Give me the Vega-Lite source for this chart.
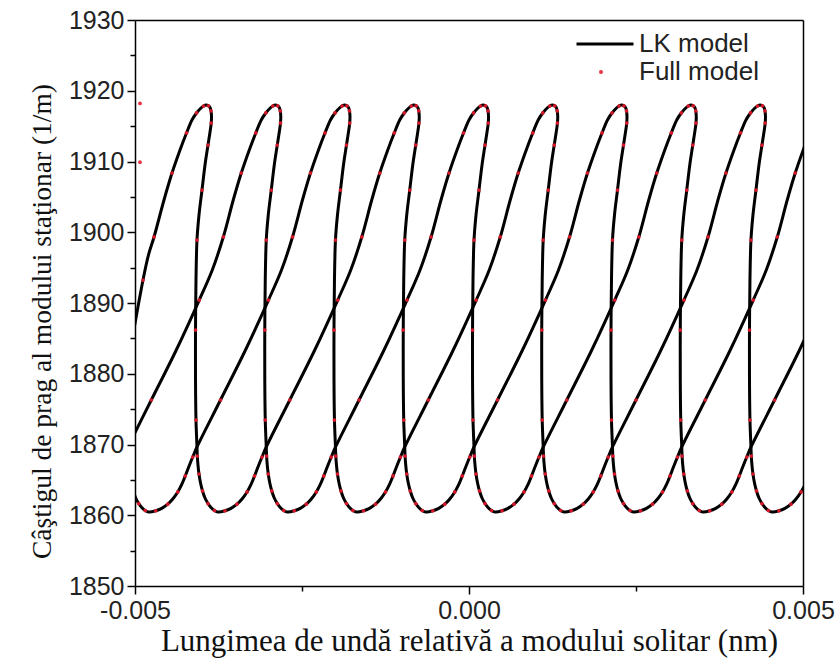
{
  "$schema": "https://vega.github.io/schema/vega-lite/v6.json",
  "width": 668,
  "height": 566,
  "autosize": {"type": "none"},
  "padding": {"left": 135, "top": 20, "right": 36, "bottom": 74},
  "background": "white",
  "config": {
    "view": {"stroke": null},
    "axis": {"domainColor": "black", "domainWidth": 1.5, "tickColor": "black", "tickWidth": 1.5, "labelFont": "Liberation Sans", "labelFontSize": 25, "labelColor": "#222", "titleFont": "Liberation Serif", "titleFontWeight": "normal", "titleColor": "#111", "gridWidth": 1.5}
  },
  "data": {"values": [
    {"c":"F","n":0,"x":-0.004925,"y":1918.2},
    {"c":"F","n":0,"x":-0.004925,"y":1909.9},
    {"c":"A","n":113,"x":-0.00503,"y":1885.5},
    {"c":"A","n":114,"x":-0.00488,"y":1893.25},
    {"c":"A","n":115,"x":-0.004798,"y":1896.8},
    {"c":"A","n":116,"x":-0.004715,"y":1899.33},
    {"c":"A","n":117,"x":-0.004566,"y":1904.56},
    {"c":"A","n":118,"x":-0.004446,"y":1908.37},
    {"c":"A","n":119,"x":-0.004326,"y":1911.63},
    {"c":"A","n":120,"x":-0.004229,"y":1914.03},
    {"c":"A","n":121,"x":-0.004147,"y":1915.87},
    {"c":"A","n":122,"x":-0.004079,"y":1916.86},
    {"c":"A","n":123,"x":-0.004012,"y":1917.56},
    {"c":"A","n":124,"x":-0.003974,"y":1917.84},
    {"c":"A","n":125,"x":-0.003937,"y":1918},
    {"c":"A","n":126,"x":-0.0039,"y":1917.87},
    {"c":"A","n":127,"x":-0.003877,"y":1917.63},
    {"c":"A","n":128,"x":-0.003862,"y":1917.14},
    {"c":"A","n":129,"x":-0.003855,"y":1916.43},
    {"c":"A","n":130,"x":-0.003859,"y":1915.44},
    {"c":"A","n":131,"x":-0.003877,"y":1914.17},
    {"c":"A","n":132,"x":-0.003907,"y":1912.33},
    {"c":"A","n":133,"x":-0.003952,"y":1909.51},
    {"c":"A","n":134,"x":-0.003997,"y":1905.97},
    {"c":"A","n":135,"x":-0.004042,"y":1902.44},
    {"c":"A","n":136,"x":-0.004072,"y":1898.9},
    {"c":"A","n":137,"x":-0.004087,"y":1893.25},
    {"c":"A","n":138,"x":-0.004094,"y":1886.18},
    {"c":"A","n":139,"x":-0.004094,"y":1879.12},
    {"c":"A","n":140,"x":-0.004087,"y":1873.46},
    {"c":"A","n":141,"x":-0.004072,"y":1869.65},
    {"c":"A","n":142,"x":-0.004067,"y":1868.37},
    {"c":"A","n":143,"x":-0.004057,"y":1867.1},
    {"c":"A","n":144,"x":-0.004042,"y":1865.83},
    {"c":"A","n":145,"x":-0.004019,"y":1864.56},
    {"c":"A","n":146,"x":-0.003989,"y":1863.43},
    {"c":"A","n":147,"x":-0.003952,"y":1862.44},
    {"c":"A","n":148,"x":-0.003907,"y":1861.66},
    {"c":"A","n":149,"x":-0.003862,"y":1861.1},
    {"c":"A","n":150,"x":-0.00381,"y":1860.67},
    {"c":"A","n":401,"x":-0.003757,"y":1860.46},
    {"c":"A","n":402,"x":-0.003653,"y":1860.63},
    {"c":"A","n":403,"x":-0.003563,"y":1860.98},
    {"c":"A","n":404,"x":-0.003473,"y":1861.56},
    {"c":"A","n":405,"x":-0.003398,"y":1862.3},
    {"c":"A","n":406,"x":-0.003323,"y":1863.29},
    {"c":"A","n":407,"x":-0.003263,"y":1864.35},
    {"c":"A","n":408,"x":-0.003211,"y":1865.55},
    {"c":"A","n":409,"x":-0.003156,"y":1866.89},
    {"c":"A","n":410,"x":-0.003099,"y":1868.23},
    {"c":"A","n":411,"x":-0.003035,"y":1869.65},
    {"c":"A","n":412,"x":-0.002683,"y":1876.29},
    {"c":"A","n":413,"x":-0.002309,"y":1883.36},
    {"c":"A","n":414,"x":-0.001965,"y":1890.42},
    {"c":"A","n":415,"x":-0.00177,"y":1894.66},
    {"c":"A","n":416,"x":-0.001605,"y":1899.33},
    {"c":"A","n":417,"x":-0.001456,"y":1904.56},
    {"c":"A","n":418,"x":-0.001336,"y":1908.37},
    {"c":"A","n":419,"x":-0.001216,"y":1911.63},
    {"c":"A","n":420,"x":-0.001119,"y":1914.03},
    {"c":"A","n":421,"x":-0.001037,"y":1915.87},
    {"c":"A","n":422,"x":-0.000969,"y":1916.86},
    {"c":"A","n":423,"x":-0.000902,"y":1917.56},
    {"c":"A","n":424,"x":-0.000864,"y":1917.84},
    {"c":"A","n":425,"x":-0.000827,"y":1918},
    {"c":"A","n":426,"x":-0.00079,"y":1917.87},
    {"c":"A","n":427,"x":-0.000767,"y":1917.63},
    {"c":"A","n":428,"x":-0.000752,"y":1917.14},
    {"c":"A","n":429,"x":-0.000745,"y":1916.43},
    {"c":"A","n":430,"x":-0.000749,"y":1915.44},
    {"c":"A","n":431,"x":-0.000767,"y":1914.17},
    {"c":"A","n":432,"x":-0.000797,"y":1912.33},
    {"c":"A","n":433,"x":-0.000842,"y":1909.51},
    {"c":"A","n":434,"x":-0.000887,"y":1905.97},
    {"c":"A","n":435,"x":-0.000932,"y":1902.44},
    {"c":"A","n":436,"x":-0.000962,"y":1898.9},
    {"c":"A","n":437,"x":-0.000977,"y":1893.25},
    {"c":"A","n":438,"x":-0.000984,"y":1886.18},
    {"c":"A","n":439,"x":-0.000984,"y":1879.12},
    {"c":"A","n":440,"x":-0.000977,"y":1873.46},
    {"c":"A","n":441,"x":-0.000962,"y":1869.65},
    {"c":"A","n":442,"x":-0.000957,"y":1868.37},
    {"c":"A","n":443,"x":-0.000947,"y":1867.1},
    {"c":"A","n":444,"x":-0.000932,"y":1865.83},
    {"c":"A","n":445,"x":-0.000909,"y":1864.56},
    {"c":"A","n":446,"x":-0.000879,"y":1863.43},
    {"c":"A","n":447,"x":-0.000842,"y":1862.44},
    {"c":"A","n":448,"x":-0.000797,"y":1861.66},
    {"c":"A","n":449,"x":-0.000752,"y":1861.1},
    {"c":"A","n":450,"x":-0.0007,"y":1860.67},
    {"c":"A","n":701,"x":-0.000647,"y":1860.46},
    {"c":"A","n":702,"x":-0.000543,"y":1860.63},
    {"c":"A","n":703,"x":-0.000453,"y":1860.98},
    {"c":"A","n":704,"x":-0.000363,"y":1861.56},
    {"c":"A","n":705,"x":-0.000288,"y":1862.3},
    {"c":"A","n":706,"x":-0.000213,"y":1863.29},
    {"c":"A","n":707,"x":-0.000153,"y":1864.35},
    {"c":"A","n":708,"x":-0.000101,"y":1865.55},
    {"c":"A","n":709,"x":-0.000046,"y":1866.89},
    {"c":"A","n":710,"x":0.000011,"y":1868.23},
    {"c":"A","n":711,"x":0.000075,"y":1869.65},
    {"c":"A","n":712,"x":0.000427,"y":1876.29},
    {"c":"A","n":713,"x":0.000801,"y":1883.36},
    {"c":"A","n":714,"x":0.001145,"y":1890.42},
    {"c":"A","n":715,"x":0.00134,"y":1894.66},
    {"c":"A","n":716,"x":0.001505,"y":1899.33},
    {"c":"A","n":717,"x":0.001654,"y":1904.56},
    {"c":"A","n":718,"x":0.001774,"y":1908.37},
    {"c":"A","n":719,"x":0.001894,"y":1911.63},
    {"c":"A","n":720,"x":0.001991,"y":1914.03},
    {"c":"A","n":721,"x":0.002073,"y":1915.87},
    {"c":"A","n":722,"x":0.002141,"y":1916.86},
    {"c":"A","n":723,"x":0.002208,"y":1917.56},
    {"c":"A","n":724,"x":0.002246,"y":1917.84},
    {"c":"A","n":725,"x":0.002283,"y":1918},
    {"c":"A","n":726,"x":0.00232,"y":1917.87},
    {"c":"A","n":727,"x":0.002343,"y":1917.63},
    {"c":"A","n":728,"x":0.002358,"y":1917.14},
    {"c":"A","n":729,"x":0.002365,"y":1916.43},
    {"c":"A","n":730,"x":0.002361,"y":1915.44},
    {"c":"A","n":731,"x":0.002343,"y":1914.17},
    {"c":"A","n":732,"x":0.002313,"y":1912.33},
    {"c":"A","n":733,"x":0.002268,"y":1909.51},
    {"c":"A","n":734,"x":0.002223,"y":1905.97},
    {"c":"A","n":735,"x":0.002178,"y":1902.44},
    {"c":"A","n":736,"x":0.002148,"y":1898.9},
    {"c":"A","n":737,"x":0.002133,"y":1893.25},
    {"c":"A","n":738,"x":0.002126,"y":1886.18},
    {"c":"A","n":739,"x":0.002126,"y":1879.12},
    {"c":"A","n":740,"x":0.002133,"y":1873.46},
    {"c":"A","n":741,"x":0.002148,"y":1869.65},
    {"c":"A","n":742,"x":0.002153,"y":1868.37},
    {"c":"A","n":743,"x":0.002163,"y":1867.1},
    {"c":"A","n":744,"x":0.002178,"y":1865.83},
    {"c":"A","n":745,"x":0.002201,"y":1864.56},
    {"c":"A","n":746,"x":0.002231,"y":1863.43},
    {"c":"A","n":747,"x":0.002268,"y":1862.44},
    {"c":"A","n":748,"x":0.002313,"y":1861.66},
    {"c":"A","n":749,"x":0.002358,"y":1861.1},
    {"c":"A","n":750,"x":0.00241,"y":1860.67},
    {"c":"A","n":1001,"x":0.002463,"y":1860.46},
    {"c":"A","n":1002,"x":0.002567,"y":1860.63},
    {"c":"A","n":1003,"x":0.002657,"y":1860.98},
    {"c":"A","n":1004,"x":0.002747,"y":1861.56},
    {"c":"A","n":1005,"x":0.002822,"y":1862.3},
    {"c":"A","n":1006,"x":0.002897,"y":1863.29},
    {"c":"A","n":1007,"x":0.002957,"y":1864.35},
    {"c":"A","n":1008,"x":0.003009,"y":1865.55},
    {"c":"A","n":1009,"x":0.003064,"y":1866.89},
    {"c":"A","n":1010,"x":0.003121,"y":1868.23},
    {"c":"A","n":1011,"x":0.003185,"y":1869.65},
    {"c":"A","n":1012,"x":0.003537,"y":1876.29},
    {"c":"A","n":1013,"x":0.003911,"y":1883.36},
    {"c":"A","n":1014,"x":0.004255,"y":1890.42},
    {"c":"A","n":1015,"x":0.00445,"y":1894.66},
    {"c":"A","n":1016,"x":0.004615,"y":1899.33},
    {"c":"A","n":1017,"x":0.004764,"y":1904.56},
    {"c":"A","n":1018,"x":0.004884,"y":1908.37},
    {"c":"A","n":1019,"x":0.005004,"y":1911.63},
    {"c":"A","n":1020,"x":0.005101,"y":1914.03},
    {"c":"B","n":211,"x":-0.005108,"y":1869.65},
    {"c":"B","n":212,"x":-0.004756,"y":1876.29},
    {"c":"B","n":213,"x":-0.004382,"y":1883.36},
    {"c":"B","n":214,"x":-0.004038,"y":1890.42},
    {"c":"B","n":215,"x":-0.003843,"y":1894.66},
    {"c":"B","n":216,"x":-0.003678,"y":1899.33},
    {"c":"B","n":217,"x":-0.003529,"y":1904.56},
    {"c":"B","n":218,"x":-0.003409,"y":1908.37},
    {"c":"B","n":219,"x":-0.003289,"y":1911.63},
    {"c":"B","n":220,"x":-0.003192,"y":1914.03},
    {"c":"B","n":221,"x":-0.00311,"y":1915.87},
    {"c":"B","n":222,"x":-0.003042,"y":1916.86},
    {"c":"B","n":223,"x":-0.002975,"y":1917.56},
    {"c":"B","n":224,"x":-0.002937,"y":1917.84},
    {"c":"B","n":225,"x":-0.0029,"y":1918},
    {"c":"B","n":226,"x":-0.002863,"y":1917.87},
    {"c":"B","n":227,"x":-0.00284,"y":1917.63},
    {"c":"B","n":228,"x":-0.002825,"y":1917.14},
    {"c":"B","n":229,"x":-0.002818,"y":1916.43},
    {"c":"B","n":230,"x":-0.002822,"y":1915.44},
    {"c":"B","n":231,"x":-0.00284,"y":1914.17},
    {"c":"B","n":232,"x":-0.00287,"y":1912.33},
    {"c":"B","n":233,"x":-0.002915,"y":1909.51},
    {"c":"B","n":234,"x":-0.00296,"y":1905.97},
    {"c":"B","n":235,"x":-0.003005,"y":1902.44},
    {"c":"B","n":236,"x":-0.003035,"y":1898.9},
    {"c":"B","n":237,"x":-0.00305,"y":1893.25},
    {"c":"B","n":238,"x":-0.003057,"y":1886.18},
    {"c":"B","n":239,"x":-0.003057,"y":1879.12},
    {"c":"B","n":240,"x":-0.00305,"y":1873.46},
    {"c":"B","n":241,"x":-0.003035,"y":1869.65},
    {"c":"B","n":242,"x":-0.00303,"y":1868.37},
    {"c":"B","n":243,"x":-0.00302,"y":1867.1},
    {"c":"B","n":244,"x":-0.003005,"y":1865.83},
    {"c":"B","n":245,"x":-0.002982,"y":1864.56},
    {"c":"B","n":246,"x":-0.002952,"y":1863.43},
    {"c":"B","n":247,"x":-0.002915,"y":1862.44},
    {"c":"B","n":248,"x":-0.00287,"y":1861.66},
    {"c":"B","n":249,"x":-0.002825,"y":1861.1},
    {"c":"B","n":250,"x":-0.002773,"y":1860.67},
    {"c":"B","n":501,"x":-0.00272,"y":1860.46},
    {"c":"B","n":502,"x":-0.002616,"y":1860.63},
    {"c":"B","n":503,"x":-0.002526,"y":1860.98},
    {"c":"B","n":504,"x":-0.002436,"y":1861.56},
    {"c":"B","n":505,"x":-0.002361,"y":1862.3},
    {"c":"B","n":506,"x":-0.002286,"y":1863.29},
    {"c":"B","n":507,"x":-0.002226,"y":1864.35},
    {"c":"B","n":508,"x":-0.002174,"y":1865.55},
    {"c":"B","n":509,"x":-0.002119,"y":1866.89},
    {"c":"B","n":510,"x":-0.002062,"y":1868.23},
    {"c":"B","n":511,"x":-0.001998,"y":1869.65},
    {"c":"B","n":512,"x":-0.001646,"y":1876.29},
    {"c":"B","n":513,"x":-0.001272,"y":1883.36},
    {"c":"B","n":514,"x":-0.000928,"y":1890.42},
    {"c":"B","n":515,"x":-0.000733,"y":1894.66},
    {"c":"B","n":516,"x":-0.000568,"y":1899.33},
    {"c":"B","n":517,"x":-0.000419,"y":1904.56},
    {"c":"B","n":518,"x":-0.000299,"y":1908.37},
    {"c":"B","n":519,"x":-0.000179,"y":1911.63},
    {"c":"B","n":520,"x":-0.000082,"y":1914.03},
    {"c":"B","n":521,"x":0,"y":1915.87},
    {"c":"B","n":522,"x":0.000068,"y":1916.86},
    {"c":"B","n":523,"x":0.000135,"y":1917.56},
    {"c":"B","n":524,"x":0.000173,"y":1917.84},
    {"c":"B","n":525,"x":0.00021,"y":1918},
    {"c":"B","n":526,"x":0.000247,"y":1917.87},
    {"c":"B","n":527,"x":0.00027,"y":1917.63},
    {"c":"B","n":528,"x":0.000285,"y":1917.14},
    {"c":"B","n":529,"x":0.000292,"y":1916.43},
    {"c":"B","n":530,"x":0.000288,"y":1915.44},
    {"c":"B","n":531,"x":0.00027,"y":1914.17},
    {"c":"B","n":532,"x":0.00024,"y":1912.33},
    {"c":"B","n":533,"x":0.000195,"y":1909.51},
    {"c":"B","n":534,"x":0.00015,"y":1905.97},
    {"c":"B","n":535,"x":0.000105,"y":1902.44},
    {"c":"B","n":536,"x":0.000075,"y":1898.9},
    {"c":"B","n":537,"x":0.00006,"y":1893.25},
    {"c":"B","n":538,"x":0.000053,"y":1886.18},
    {"c":"B","n":539,"x":0.000053,"y":1879.12},
    {"c":"B","n":540,"x":0.00006,"y":1873.46},
    {"c":"B","n":541,"x":0.000075,"y":1869.65},
    {"c":"B","n":542,"x":0.00008,"y":1868.37},
    {"c":"B","n":543,"x":0.00009,"y":1867.1},
    {"c":"B","n":544,"x":0.000105,"y":1865.83},
    {"c":"B","n":545,"x":0.000128,"y":1864.56},
    {"c":"B","n":546,"x":0.000158,"y":1863.43},
    {"c":"B","n":547,"x":0.000195,"y":1862.44},
    {"c":"B","n":548,"x":0.00024,"y":1861.66},
    {"c":"B","n":549,"x":0.000285,"y":1861.1},
    {"c":"B","n":550,"x":0.000337,"y":1860.67},
    {"c":"B","n":801,"x":0.00039,"y":1860.46},
    {"c":"B","n":802,"x":0.000494,"y":1860.63},
    {"c":"B","n":803,"x":0.000584,"y":1860.98},
    {"c":"B","n":804,"x":0.000674,"y":1861.56},
    {"c":"B","n":805,"x":0.000749,"y":1862.3},
    {"c":"B","n":806,"x":0.000824,"y":1863.29},
    {"c":"B","n":807,"x":0.000884,"y":1864.35},
    {"c":"B","n":808,"x":0.000936,"y":1865.55},
    {"c":"B","n":809,"x":0.000991,"y":1866.89},
    {"c":"B","n":810,"x":0.001048,"y":1868.23},
    {"c":"B","n":811,"x":0.001112,"y":1869.65},
    {"c":"B","n":812,"x":0.001464,"y":1876.29},
    {"c":"B","n":813,"x":0.001838,"y":1883.36},
    {"c":"B","n":814,"x":0.002182,"y":1890.42},
    {"c":"B","n":815,"x":0.002377,"y":1894.66},
    {"c":"B","n":816,"x":0.002542,"y":1899.33},
    {"c":"B","n":817,"x":0.002691,"y":1904.56},
    {"c":"B","n":818,"x":0.002811,"y":1908.37},
    {"c":"B","n":819,"x":0.002931,"y":1911.63},
    {"c":"B","n":820,"x":0.003028,"y":1914.03},
    {"c":"B","n":821,"x":0.00311,"y":1915.87},
    {"c":"B","n":822,"x":0.003178,"y":1916.86},
    {"c":"B","n":823,"x":0.003245,"y":1917.56},
    {"c":"B","n":824,"x":0.003283,"y":1917.84},
    {"c":"B","n":825,"x":0.00332,"y":1918},
    {"c":"B","n":826,"x":0.003357,"y":1917.87},
    {"c":"B","n":827,"x":0.00338,"y":1917.63},
    {"c":"B","n":828,"x":0.003395,"y":1917.14},
    {"c":"B","n":829,"x":0.003402,"y":1916.43},
    {"c":"B","n":830,"x":0.003398,"y":1915.44},
    {"c":"B","n":831,"x":0.00338,"y":1914.17},
    {"c":"B","n":832,"x":0.00335,"y":1912.33},
    {"c":"B","n":833,"x":0.003305,"y":1909.51},
    {"c":"B","n":834,"x":0.00326,"y":1905.97},
    {"c":"B","n":835,"x":0.003215,"y":1902.44},
    {"c":"B","n":836,"x":0.003185,"y":1898.9},
    {"c":"B","n":837,"x":0.00317,"y":1893.25},
    {"c":"B","n":838,"x":0.003163,"y":1886.18},
    {"c":"B","n":839,"x":0.003163,"y":1879.12},
    {"c":"B","n":840,"x":0.00317,"y":1873.46},
    {"c":"B","n":841,"x":0.003185,"y":1869.65},
    {"c":"B","n":842,"x":0.00319,"y":1868.37},
    {"c":"B","n":843,"x":0.0032,"y":1867.1},
    {"c":"B","n":844,"x":0.003215,"y":1865.83},
    {"c":"B","n":845,"x":0.003238,"y":1864.56},
    {"c":"B","n":846,"x":0.003268,"y":1863.43},
    {"c":"B","n":847,"x":0.003305,"y":1862.44},
    {"c":"B","n":848,"x":0.00335,"y":1861.66},
    {"c":"B","n":849,"x":0.003395,"y":1861.1},
    {"c":"B","n":850,"x":0.003447,"y":1860.67},
    {"c":"B","n":1101,"x":0.0035,"y":1860.46},
    {"c":"B","n":1102,"x":0.003604,"y":1860.63},
    {"c":"B","n":1103,"x":0.003694,"y":1860.98},
    {"c":"B","n":1104,"x":0.003784,"y":1861.56},
    {"c":"B","n":1105,"x":0.003859,"y":1862.3},
    {"c":"B","n":1106,"x":0.003934,"y":1863.29},
    {"c":"B","n":1107,"x":0.003994,"y":1864.35},
    {"c":"B","n":1108,"x":0.004046,"y":1865.55},
    {"c":"B","n":1109,"x":0.004101,"y":1866.89},
    {"c":"B","n":1110,"x":0.004158,"y":1868.23},
    {"c":"B","n":1111,"x":0.004222,"y":1869.65},
    {"c":"B","n":1112,"x":0.004574,"y":1876.29},
    {"c":"B","n":1113,"x":0.004948,"y":1883.36},
    {"c":"B","n":1114,"x":0.005292,"y":1890.42},
    {"c":"C","n":46,"x":-0.005026,"y":1863.43},
    {"c":"C","n":47,"x":-0.004989,"y":1862.44},
    {"c":"C","n":48,"x":-0.004944,"y":1861.66},
    {"c":"C","n":49,"x":-0.004899,"y":1861.1},
    {"c":"C","n":50,"x":-0.004847,"y":1860.67},
    {"c":"C","n":301,"x":-0.004794,"y":1860.46},
    {"c":"C","n":302,"x":-0.00469,"y":1860.63},
    {"c":"C","n":303,"x":-0.0046,"y":1860.98},
    {"c":"C","n":304,"x":-0.00451,"y":1861.56},
    {"c":"C","n":305,"x":-0.004435,"y":1862.3},
    {"c":"C","n":306,"x":-0.00436,"y":1863.29},
    {"c":"C","n":307,"x":-0.0043,"y":1864.35},
    {"c":"C","n":308,"x":-0.004248,"y":1865.55},
    {"c":"C","n":309,"x":-0.004193,"y":1866.89},
    {"c":"C","n":310,"x":-0.004136,"y":1868.23},
    {"c":"C","n":311,"x":-0.004072,"y":1869.65},
    {"c":"C","n":312,"x":-0.00372,"y":1876.29},
    {"c":"C","n":313,"x":-0.003346,"y":1883.36},
    {"c":"C","n":314,"x":-0.003002,"y":1890.42},
    {"c":"C","n":315,"x":-0.002807,"y":1894.66},
    {"c":"C","n":316,"x":-0.002642,"y":1899.33},
    {"c":"C","n":317,"x":-0.002493,"y":1904.56},
    {"c":"C","n":318,"x":-0.002373,"y":1908.37},
    {"c":"C","n":319,"x":-0.002253,"y":1911.63},
    {"c":"C","n":320,"x":-0.002156,"y":1914.03},
    {"c":"C","n":321,"x":-0.002074,"y":1915.87},
    {"c":"C","n":322,"x":-0.002006,"y":1916.86},
    {"c":"C","n":323,"x":-0.001939,"y":1917.56},
    {"c":"C","n":324,"x":-0.001901,"y":1917.84},
    {"c":"C","n":325,"x":-0.001864,"y":1918},
    {"c":"C","n":326,"x":-0.001827,"y":1917.87},
    {"c":"C","n":327,"x":-0.001804,"y":1917.63},
    {"c":"C","n":328,"x":-0.001789,"y":1917.14},
    {"c":"C","n":329,"x":-0.001782,"y":1916.43},
    {"c":"C","n":330,"x":-0.001786,"y":1915.44},
    {"c":"C","n":331,"x":-0.001804,"y":1914.17},
    {"c":"C","n":332,"x":-0.001834,"y":1912.33},
    {"c":"C","n":333,"x":-0.001879,"y":1909.51},
    {"c":"C","n":334,"x":-0.001924,"y":1905.97},
    {"c":"C","n":335,"x":-0.001969,"y":1902.44},
    {"c":"C","n":336,"x":-0.001999,"y":1898.9},
    {"c":"C","n":337,"x":-0.002014,"y":1893.25},
    {"c":"C","n":338,"x":-0.002021,"y":1886.18},
    {"c":"C","n":339,"x":-0.002021,"y":1879.12},
    {"c":"C","n":340,"x":-0.002014,"y":1873.46},
    {"c":"C","n":341,"x":-0.001999,"y":1869.65},
    {"c":"C","n":342,"x":-0.001994,"y":1868.37},
    {"c":"C","n":343,"x":-0.001984,"y":1867.1},
    {"c":"C","n":344,"x":-0.001969,"y":1865.83},
    {"c":"C","n":345,"x":-0.001946,"y":1864.56},
    {"c":"C","n":346,"x":-0.001916,"y":1863.43},
    {"c":"C","n":347,"x":-0.001879,"y":1862.44},
    {"c":"C","n":348,"x":-0.001834,"y":1861.66},
    {"c":"C","n":349,"x":-0.001789,"y":1861.1},
    {"c":"C","n":350,"x":-0.001737,"y":1860.67},
    {"c":"C","n":601,"x":-0.001684,"y":1860.46},
    {"c":"C","n":602,"x":-0.00158,"y":1860.63},
    {"c":"C","n":603,"x":-0.00149,"y":1860.98},
    {"c":"C","n":604,"x":-0.0014,"y":1861.56},
    {"c":"C","n":605,"x":-0.001325,"y":1862.3},
    {"c":"C","n":606,"x":-0.00125,"y":1863.29},
    {"c":"C","n":607,"x":-0.00119,"y":1864.35},
    {"c":"C","n":608,"x":-0.001138,"y":1865.55},
    {"c":"C","n":609,"x":-0.001083,"y":1866.89},
    {"c":"C","n":610,"x":-0.001026,"y":1868.23},
    {"c":"C","n":611,"x":-0.000962,"y":1869.65},
    {"c":"C","n":612,"x":-0.00061,"y":1876.29},
    {"c":"C","n":613,"x":-0.000236,"y":1883.36},
    {"c":"C","n":614,"x":0.000108,"y":1890.42},
    {"c":"C","n":615,"x":0.000303,"y":1894.66},
    {"c":"C","n":616,"x":0.000468,"y":1899.33},
    {"c":"C","n":617,"x":0.000617,"y":1904.56},
    {"c":"C","n":618,"x":0.000737,"y":1908.37},
    {"c":"C","n":619,"x":0.000857,"y":1911.63},
    {"c":"C","n":620,"x":0.000954,"y":1914.03},
    {"c":"C","n":621,"x":0.001036,"y":1915.87},
    {"c":"C","n":622,"x":0.001104,"y":1916.86},
    {"c":"C","n":623,"x":0.001171,"y":1917.56},
    {"c":"C","n":624,"x":0.001209,"y":1917.84},
    {"c":"C","n":625,"x":0.001246,"y":1918},
    {"c":"C","n":626,"x":0.001283,"y":1917.87},
    {"c":"C","n":627,"x":0.001306,"y":1917.63},
    {"c":"C","n":628,"x":0.001321,"y":1917.14},
    {"c":"C","n":629,"x":0.001328,"y":1916.43},
    {"c":"C","n":630,"x":0.001324,"y":1915.44},
    {"c":"C","n":631,"x":0.001306,"y":1914.17},
    {"c":"C","n":632,"x":0.001276,"y":1912.33},
    {"c":"C","n":633,"x":0.001231,"y":1909.51},
    {"c":"C","n":634,"x":0.001186,"y":1905.97},
    {"c":"C","n":635,"x":0.001141,"y":1902.44},
    {"c":"C","n":636,"x":0.001111,"y":1898.9},
    {"c":"C","n":637,"x":0.001096,"y":1893.25},
    {"c":"C","n":638,"x":0.001089,"y":1886.18},
    {"c":"C","n":639,"x":0.001089,"y":1879.12},
    {"c":"C","n":640,"x":0.001096,"y":1873.46},
    {"c":"C","n":641,"x":0.001111,"y":1869.65},
    {"c":"C","n":642,"x":0.001116,"y":1868.37},
    {"c":"C","n":643,"x":0.001126,"y":1867.1},
    {"c":"C","n":644,"x":0.001141,"y":1865.83},
    {"c":"C","n":645,"x":0.001164,"y":1864.56},
    {"c":"C","n":646,"x":0.001194,"y":1863.43},
    {"c":"C","n":647,"x":0.001231,"y":1862.44},
    {"c":"C","n":648,"x":0.001276,"y":1861.66},
    {"c":"C","n":649,"x":0.001321,"y":1861.1},
    {"c":"C","n":650,"x":0.001373,"y":1860.67},
    {"c":"C","n":901,"x":0.001426,"y":1860.46},
    {"c":"C","n":902,"x":0.00153,"y":1860.63},
    {"c":"C","n":903,"x":0.00162,"y":1860.98},
    {"c":"C","n":904,"x":0.00171,"y":1861.56},
    {"c":"C","n":905,"x":0.001785,"y":1862.3},
    {"c":"C","n":906,"x":0.00186,"y":1863.29},
    {"c":"C","n":907,"x":0.00192,"y":1864.35},
    {"c":"C","n":908,"x":0.001972,"y":1865.55},
    {"c":"C","n":909,"x":0.002027,"y":1866.89},
    {"c":"C","n":910,"x":0.002084,"y":1868.23},
    {"c":"C","n":911,"x":0.002148,"y":1869.65},
    {"c":"C","n":912,"x":0.0025,"y":1876.29},
    {"c":"C","n":913,"x":0.002874,"y":1883.36},
    {"c":"C","n":914,"x":0.003218,"y":1890.42},
    {"c":"C","n":915,"x":0.003413,"y":1894.66},
    {"c":"C","n":916,"x":0.003578,"y":1899.33},
    {"c":"C","n":917,"x":0.003727,"y":1904.56},
    {"c":"C","n":918,"x":0.003847,"y":1908.37},
    {"c":"C","n":919,"x":0.003967,"y":1911.63},
    {"c":"C","n":920,"x":0.004064,"y":1914.03},
    {"c":"C","n":921,"x":0.004146,"y":1915.87},
    {"c":"C","n":922,"x":0.004214,"y":1916.86},
    {"c":"C","n":923,"x":0.004281,"y":1917.56},
    {"c":"C","n":924,"x":0.004319,"y":1917.84},
    {"c":"C","n":925,"x":0.004356,"y":1918},
    {"c":"C","n":926,"x":0.004393,"y":1917.87},
    {"c":"C","n":927,"x":0.004416,"y":1917.63},
    {"c":"C","n":928,"x":0.004431,"y":1917.14},
    {"c":"C","n":929,"x":0.004438,"y":1916.43},
    {"c":"C","n":930,"x":0.004434,"y":1915.44},
    {"c":"C","n":931,"x":0.004416,"y":1914.17},
    {"c":"C","n":932,"x":0.004386,"y":1912.33},
    {"c":"C","n":933,"x":0.004341,"y":1909.51},
    {"c":"C","n":934,"x":0.004296,"y":1905.97},
    {"c":"C","n":935,"x":0.004251,"y":1902.44},
    {"c":"C","n":936,"x":0.004221,"y":1898.9},
    {"c":"C","n":937,"x":0.004206,"y":1893.25},
    {"c":"C","n":938,"x":0.004199,"y":1886.18},
    {"c":"C","n":939,"x":0.004199,"y":1879.12},
    {"c":"C","n":940,"x":0.004206,"y":1873.46},
    {"c":"C","n":941,"x":0.004221,"y":1869.65},
    {"c":"C","n":942,"x":0.004226,"y":1868.37},
    {"c":"C","n":943,"x":0.004236,"y":1867.1},
    {"c":"C","n":944,"x":0.004251,"y":1865.83},
    {"c":"C","n":945,"x":0.004274,"y":1864.56},
    {"c":"C","n":946,"x":0.004304,"y":1863.43},
    {"c":"C","n":947,"x":0.004341,"y":1862.44},
    {"c":"C","n":948,"x":0.004386,"y":1861.66},
    {"c":"C","n":949,"x":0.004431,"y":1861.1},
    {"c":"C","n":950,"x":0.004483,"y":1860.67},
    {"c":"C","n":1201,"x":0.004536,"y":1860.46},
    {"c":"C","n":1202,"x":0.00464,"y":1860.63},
    {"c":"C","n":1203,"x":0.00473,"y":1860.98},
    {"c":"C","n":1204,"x":0.00482,"y":1861.56},
    {"c":"C","n":1205,"x":0.004895,"y":1862.3},
    {"c":"C","n":1206,"x":0.00497,"y":1863.29},
    {"c":"C","n":1207,"x":0.00503,"y":1864.35},
    {"c":"C","n":1208,"x":0.005082,"y":1865.55}
  ]},
  "encoding": {
    "x": {"field": "x", "type": "quantitative",
      "scale": {"domain": [-0.005, 0.005], "nice": false, "zero": false},
      "axis": {"title": "Lungimea de undă relativă a modului solitar (nm)", "values": [-0.005, -0.0025, 0, 0.0025, 0.005],
        "labelExpr": "datum.value == 0 ? '0.000' : (datum.value > 0.004 ? '0.005' : (datum.value < -0.004 ? '-0.005' : ''))",
        "labelFlush": false, "labelOverlap": false, "labelBound": false,
        "tickSize": {"condition": {"test": "abs(datum.value) < 0.001 || abs(datum.value) > 0.004", "value": 8}, "value": 5},
        "grid": true, "gridColor": {"condition": {"test": "datum.value > 0.004", "value": "black"}, "value": "transparent"},
        "labelPadding": 4, "titleFontSize": 31, "titlePadding": 3}},
    "y": {"field": "y", "type": "quantitative",
      "scale": {"domain": [1850, 1930], "nice": false, "zero": false},
      "axis": {"title": "Câştigul de prag al modului staţionar (1/m)", "values": [1850, 1855, 1860, 1865, 1870, 1875, 1880, 1885, 1890, 1895, 1900, 1905, 1910, 1915, 1920, 1925, 1930],
        "labelExpr": "datum.value % 10 == 0 ? format(datum.value, 'd') : ''",
        "labelOverlap": false, "labelBound": false, "labelFlush": false,
        "tickSize": {"condition": {"test": "datum.value % 10 == 0", "value": 8}, "value": 5},
        "grid": true, "gridColor": {"condition": {"test": "datum.value > 1925", "value": "black"}, "value": "transparent"},
        "labelPadding": 3, "titleFontSize": 27.5, "titlePadding": 12, "titleY": 301}}
  },
  "layer": [
    {
      "data": {"values": [{"edge": "top"}]},
      "mark": {"type": "rule", "color": "black", "strokeWidth": 1.5, "clip": false},
      "encoding": {
        "x": {"datum": -0.005, "type": "quantitative"},
        "x2": {"datum": 0.005},
        "y": {"datum": 1929.9, "type": "quantitative"}
      }
    },
    {
      "data": {"values": [{"edge": "right"}]},
      "mark": {"type": "rule", "color": "black", "strokeWidth": 1.5, "clip": false},
      "encoding": {
        "x": {"datum": 0.00499, "type": "quantitative"},
        "y": {"datum": 1850, "type": "quantitative"},
        "y2": {"datum": 1930}
      }
    },
    {
      "transform": [{"filter": "datum.c != 'F'"}],
      "mark": {"type": "line", "clip": true, "strokeWidth": 3, "interpolate": "catmull-rom"},
      "encoding": {
        "detail": {"field": "c"},
        "order": {"field": "n", "type": "quantitative"},
        "stroke": {"datum": "LK model", "scale": {"domain": ["LK model"], "range": ["black"]},
          "legend": {"orient": "none", "legendX": 440, "legendY": -6, "title": null, "symbolType": "stroke", "symbolSize": 3249, "symbolStrokeWidth": 3, "labelFont": "Liberation Sans", "labelFontSize": 26, "labelColor": "#222", "labelOffset": 4, "padding": 0}}
      }
    },
    {
      "transform": [{"filter": "datum.c == 'F' || datum.n % 2 == 0"}],
      "mark": {"type": "point", "clip": true, "filled": true, "size": 14, "opacity": 0.9},
      "encoding": {
        "fill": {"datum": "Full model", "scale": {"domain": ["Full model"], "range": ["#e8192c"]},
          "legend": {"orient": "none", "legendX": 453, "legendY": 39, "title": null, "symbolType": "circle", "symbolSize": 16, "labelFont": "Liberation Sans", "labelFontSize": 26, "labelColor": "#222", "labelOffset": 25, "padding": 0}}
      }
    }
  ]
}
